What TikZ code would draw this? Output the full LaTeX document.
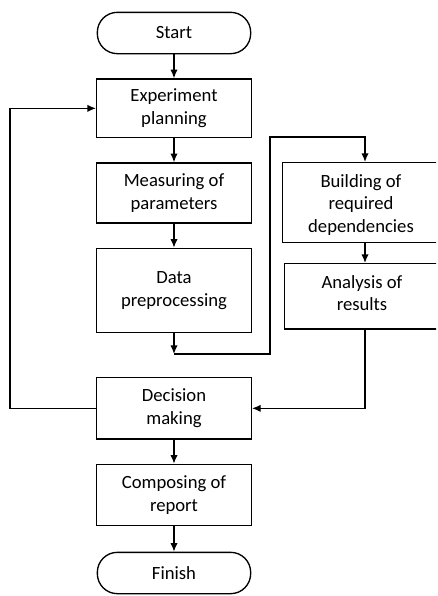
\documentclass[tikz,border=0pt]{standalone}
\usepackage{fontspec}
\setmainfont{Carlito}
\usetikzlibrary{positioning, arrows.meta}

\begin{document}
\begin{tikzpicture}[x=0.75pt, y=-0.75pt, line width=1pt, node distance=18pt, >={Latex[length=6.5pt,width=5.5pt]},
  txt/.style = {align=center, font=\fontsize{14}{17}\selectfont},
  main/.style = {txt, draw, rectangle, minimum width=116pt},
  term/.style = {main, rounded corners=15pt, minimum width=115pt, minimum height=31pt},
  side/.style = {draw, rectangle, anchor=north west, minimum width=150pt}]
\useasboundingbox (0,0) rectangle (437,596);
\clip (0,0) rectangle (436,596);
\node[term] (start) at (174,33) {Start};
\node[main, minimum height=44pt] (plan) [below=of start] {Experiment\\planning};
\node[main, minimum height=45pt] (meas) [below=of plan] {Measuring of\\parameters};
\node[main, minimum height=63pt] (data) [below=of meas] {Data\\preprocessing};
\node[main, minimum height=46pt] (dec) [below=33pt of data] {Decision\\making};
\node[main, minimum height=46pt] (comp) [below=of dec] {Composing of\\report};
\node[term] (fin) [below=19pt of comp] {Finish};
% right column runs past the page edge
\node[side, minimum height=60pt] (build) at (282,162) {};
\node[txt] (buildtxt) at (361,205) {Building of\\required\\dependencies};
\node[side, minimum height=49pt] (ana) at (284,263) {};
\node[txt] (anatxt) at (362,293) {Analysis of\\results};
\coordinate (d1) at (174,354);
\coordinate (d2) at (270,137);
\coordinate (lp) at (10,0);
\coordinate (bx) at (365,0);
\draw[->] (start) -- (plan);
\draw[->] (plan) -- (meas);
\draw[->] (meas) -- (data);
\draw[->] (data) -- (d1);
\draw[->] (d1) -| (d2) -| (build.north -| bx);
\draw[->] (build.south -| bx) -- (ana.north -| bx);
\draw[->] (ana.south -| bx) |- (dec);
\draw[->] (dec.west) -- (dec.west -| lp) |- (plan.west);
\draw[->] (dec) -- (comp);
\draw[->] (comp) -- (fin);
\end{tikzpicture}
\end{document}
